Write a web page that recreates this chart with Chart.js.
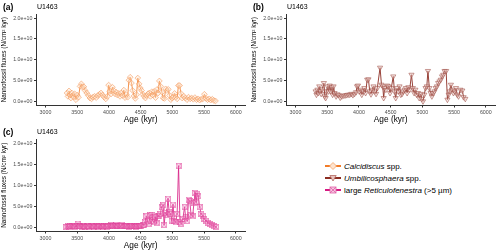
<!DOCTYPE html>
<html>
<head>
<meta charset="utf-8">
<script src="https://cdn.jsdelivr.net/npm/chart.js@4/dist/chart.umd.min.js"></script>
<style>
  html, body { margin: 0; padding: 0; background: #fff; }
  #wrap { position: relative; width: 500px; height: 251px; font-family: "Liberation Sans", Arial, sans-serif; }
  canvas.panel { position: absolute; }
  .tag { position: absolute; font-size: 8.5px; color: #000; font-weight: bold; }
  .site { position: absolute; font-size: 7px; color: #000; }
  #legend { position: absolute; left: 325px; top: 160px; font-size: 8px; color: #000; }
  #legend .row { height: 12px; display: flex; align-items: center; }
  #legend svg { margin-right: 3px; }
</style>
</head>
<body>
<div id="wrap">
  <canvas class="panel" id="panelA" width="250" height="125" style="left:0;top:0"></canvas>
  <canvas class="panel" id="panelB" width="250" height="125" style="left:250px;top:0"></canvas>
  <canvas class="panel" id="panelC" width="250" height="126" style="left:0;top:125px"></canvas>
  <div class="tag" style="left:3px;top:2px">(a)</div><div class="site" style="left:37px;top:3px">U1463</div>
  <div class="tag" style="left:253px;top:2px">(b)</div><div class="site" style="left:287px;top:3px">U1463</div>
  <div class="tag" style="left:3px;top:127px">(c)</div><div class="site" style="left:37px;top:128px">U1463</div>
  <div id="legend">
    <div class="row"><svg width="16" height="10"><line x1="0" y1="5" x2="16" y2="5" stroke="#f27c28" stroke-width="2"/><path d="M8 1.5 L11.5 5 L8 8.5 L4.5 5 Z" fill="#fde3cf" stroke="#f5a266" stroke-width="0.8"/></svg><span><i>Calcidiscus</i> spp.</span></div>
    <div class="row"><svg width="16" height="10"><line x1="0" y1="5" x2="16" y2="5" stroke="#8c2d22" stroke-width="2"/><path d="M4.8 2.5 L11.2 2.5 L8 8 Z" fill="#e8c3bf" stroke="#b26a62" stroke-width="0.8"/></svg><span><i>Umbilicosphaera</i> spp.</span></div>
    <div class="row"><svg width="16" height="10"><line x1="0" y1="5" x2="16" y2="5" stroke="#d61a82" stroke-width="2"/><rect x="5" y="2" width="6" height="6" fill="#f6c6e0" stroke="#e060a8" stroke-width="0.8"/><path d="M5 2 L11 8 M11 2 L5 8" stroke="#e060a8" stroke-width="0.8"/></svg><span>large <i>Reticulofenestra</i> (&gt;5 µm)</span></div>
  </div>
</div>
<script>
// tick positions
const xTicks = [3000, 3500, 4000, 4500, 5000, 5500, 6000];
const yTicks = [0, 5e9, 1e10, 1.5e10, 2e10];

// (a) Calcidiscus spp. -- age (kyr) / flux (N/cm2 kyr)
const calcAge = [3340,3355,3370,3385,3400,3415,3430,3445,3460,3480,3500,3520,3545,3565,3585,3605,3625,3650,3675,3700,
  3725,3750,3775,3800,3825,3850,3875,3900,3925,3950,3975,3995,4015,4035,4055,4075,4095,4115,4135,4155,
  4175,4195,4215,4235,4255,4275,4295,4315,4335,4355,4375,4395,4415,4435,4455,4475,4495,4515,4535,4555,
  4575,4595,4615,4635,4655,4675,4695,4715,4735,4755,4775,4795,4815,4835,4855,4875,4895,4915,4935,4955,
  4975,4995,5015,5035,5055,5075,5095,5115,5135,5155,5180,5205,5230,5255,5280,5305,5330,5355,5380,5405,
  5430,5455,5480,5505,5530,5555,5580,5605,5630,5655,5680];
const calcFlux = [2.0e9,1.2e9,2.5e9,1.5e9,0.8e9,2.0e9,1.4e9,1.0e9,1.8e9,0.4e9,1.5e9,1.0e9,3.6e9,4.2e9,3.4e9,3.5e9,2.6e9,2.0e9,1.4e9,0.8e9,
  0.6e9,1.0e9,1.2e9,0.9e9,1.4e9,1.7e9,2.0e9,1.5e9,1.0e9,0.6e9,1.2e9,3.9e9,2.4e9,1.8e9,3.4e9,2.6e9,1.8e9,2.2e9,1.5e9,1.9e9,
  1.2e9,2.0e9,1.4e9,2.7e9,0.9e9,1.6e9,1.0e9,5.1e9,5.8e9,4.4e9,2.6e9,1.3e9,0.7e9,1.6e9,5.6e9,4.2e9,3.2e9,2.6e9,1.7e9,1.2e9,
  0.8e9,1.4e9,1.8e9,2.0e9,1.2e9,2.3e9,1.5e9,2.4e9,0.9e9,2.8e9,2.0e9,4.9e9,3.6e9,2.2e9,0.8e9,0.7e9,3.0e9,2.6e9,2.9e9,1.4e9,
  0.4e9,0.8e9,1.1e9,1.9e9,1.0e9,0.6e9,3.8e9,3.8e9,1.9e9,0.8e9,1.2e9,0.8e9,0.4e9,1.0e9,0.6e9,0.8e9,0.5e9,0.9e9,0.4e9,0.6e9,
  0.3e9,0.5e9,0.6e9,1.7e9,0.7e9,0.4e9,0.6e9,0.3e9,0.5e9,0.2e9,0.1e9];

// (b) Umbilicosphaera spp.
const umbAge = [3317,3330,3345,3360,3375,3390,3405,3420,3447,3462,3475,3490,3505,3520,3540,3555,3570,3585,3600,3615,
  3640,3660,3680,3705,3730,3755,3780,3805,3830,3855,3880,3905,3930,3955,3970,3985,4005,4025,4045,4065,
  4085,4105,4130,4150,4170,4190,4210,4230,4250,4270,4290,4333,4355,4375,4390,4405,4425,4445,4465,4490,
  4510,4541,4560,4580,4600,4620,4640,4660,4680,4700,4720,4740,4760,4780,4800,4828,4850,4870,4890,4910,
  4930,4950,4975,4990,5010,5030,5050,5070,5088,5110,5130,5150,5170,5190,5210,5230,5250,5270,5290,5310,
  5330,5350,5375,5395,5415,5430,5450,5470,5490,5510,5530,5550,5570,5600,5630,5650,5677];
const umbFlux = [2.4e9,1.6e9,2.8e9,2.0e9,3.6e9,2.5e9,1.8e9,2.9e9,4.4e9,1.2e9,0.8e9,2.4e9,3.6e9,2.4e9,3.8e9,2.4e9,3.4e9,1.6e9,3.6e9,2.0e9,
  1.2e9,1.7e9,1.5e9,0.9e9,1.2e9,1.4e9,1.4e9,1.5e9,1.6e9,1.6e9,1.8e9,1.5e9,1.8e9,2.2e9,3.6e9,3.8e9,2.4e9,2.8e9,1.6e9,2.4e9,
  3.2e9,2.0e9,5.2e9,5.3e9,2.4e9,1.7e9,2.8e9,3.6e9,2.4e9,1.8e9,3.2e9,8.1e9,4.0e9,3.6e9,0.8e9,3.2e9,2.8e9,3.8e9,3.6e9,2.0e9,
  3.2e9,6.0e9,2.4e9,0.8e9,3.2e9,2.4e9,3.6e9,1.6e9,1.8e9,2.4e9,2.8e9,3.2e9,2.0e9,3.4e9,2.8e9,6.4e9,3.2e9,2.0e9,2.8e9,1.6e9,
  2.0e9,0.8e9,1.8e9,0.6e9,0.0e9,1.6e9,3.2e9,3.6e9,7.3e9,3.2e9,2.0e9,1.2e9,2.0e9,2.4e9,3.2e9,3.6e9,4.4e9,4.8e9,5.2e9,6.0e9,
  6.4e9,7.3e9,7.3e9,0.4e9,1.6e9,2.4e9,4.0e9,2.8e9,2.0e9,2.4e9,3.2e9,1.6e9,1.2e9,2.8e9,2.6e9,1.0e9,0.6e9];

// (c) large Reticulofenestra (>5 um)
const retAge = [3330,3350,3370,3390,3410,3430,3450,3470,3490,3510,3530,3550,3570,3590,3610,3630,3650,3670,3690,3710,
  3730,3750,3770,3790,3810,3830,3850,3870,3890,3910,3930,3950,3970,3990,4010,4030,4050,4070,4090,4110,
  4130,4150,4170,4190,4210,4230,4250,4270,4290,4310,4330,4350,4370,4390,4410,4430,4450,4470,4490,4510,
  4530,4550,4570,4590,4610,4630,4650,4672,4690,4710,4730,4750,4770,4790,4810,4830,4853,4870,4890,4910,
  4931,4950,4970,4990,5010,5030,5050,5075,5098,5120,5140,5165,5192,5210,5235,5255,5275,5295,5320,5340,
  5359,5375,5392,5410,5430,5455,5480,5505,5530,5560,5590,5620,5650,5688];
const retFlux = [0.1e9,0.2e9,0.1e9,0.3e9,0.2e9,0.4e9,0.2e9,0.1e9,0.3e9,0.9e9,0.3e9,0.2e9,0.1e9,0.3e9,0.2e9,0.1e9,0.2e9,0.3e9,0.1e9,0.2e9,
  0.4e9,0.2e9,0.1e9,0.3e9,0.2e9,0.1e9,0.2e9,0.4e9,0.2e9,0.1e9,0.3e9,0.2e9,0.1e9,0.3e9,0.2e9,0.5e9,0.2e9,0.4e9,0.2e9,0.6e9,
  0.3e9,0.2e9,0.4e9,0.3e9,0.6e9,0.2e9,0.3e9,0.2e9,0.4e9,0.1e9,0.3e9,0.2e9,0.4e9,0.2e9,0.3e9,0.1e9,0.3e9,0.2e9,0.4e9,0.3e9,
  0.5e9,0.6e9,1.2e9,2.6e9,1.4e9,0.9e9,2.9e9,3.0e9,1.6e9,1.2e9,2.4e9,1.0e9,2.8e9,2.6e9,3.2e9,4.8e9,5.2e9,0.6e9,3.4e9,3.0e9,
  6.8e9,3.6e9,3.2e9,1.6e9,5.4e9,1.6e9,1.2e9,3.2e9,14.6e9,1.2e9,0.9e9,2.0e9,4.8e9,2.4e9,1.5e9,6.6e9,6.2e9,3.0e9,2.6e9,5.8e9,
  8.2e9,6.0e9,8.0e9,7.4e9,4.8e9,3.2e9,2.8e9,2.0e9,1.6e9,1.0e9,0.8e9,0.5e9,0.3e9,0.1e9];

function sciLabel(v) {
    if (v === 0) return '0.0e+00';
    let e = Math.floor(Math.log10(Math.abs(v)));
    let m = v / Math.pow(10, e);
    return m.toFixed(1) + 'e+' + String(e).padStart(2, '0');
}

// boxed cross marker for the Reticulofenestra series
function boxCross() {
    let c = document.createElement('canvas');
    c.width = 6; c.height = 6;
    let g = c.getContext('2d');
    g.fillStyle = 'rgba(245,175,215,0.35)';
    g.fillRect(0.5, 0.5, 5, 5);
    g.strokeStyle = 'rgba(220,60,150,0.7)';
    g.lineWidth = 0.7;
    g.strokeRect(0.5, 0.5, 5, 5);
    g.beginPath();
    g.moveTo(0.5, 0.5); g.lineTo(5.5, 5.5);
    g.moveTo(5.5, 0.5); g.lineTo(0.5, 5.5);
    g.stroke();
    return c;
}

const fontFam = '"Liberation Sans", Arial, sans-serif';

function panelCiz(canvasId, ages, flux, stil) {
    const data = {
        datasets: [{
            data: ages.map((a, i) => ({ x: a, y: flux[i] })),
            borderColor: stil.line,
            borderWidth: 0.9,
            tension: 0,
            pointStyle: stil.point,
            pointRotation: stil.rot || 0,
            pointRadius: stil.radius,
            pointBorderWidth: 0.7,
            pointBorderColor: stil.pBorder,
            pointBackgroundColor: stil.pFill
        }]
    };
    const config = {
        type: 'line',
        data: data,
        options: {
            responsive: false,
            animation: false,
            devicePixelRatio: 1,
            layout: { padding: { top: 14, right: 4, left: 0, bottom: 0 } },
            plugins: { legend: { display: false }, tooltip: { enabled: false } },
            scales: {
                x: {
                    type: 'linear', min: 2850, max: 6150,
                    afterBuildTicks: ax => { ax.ticks = xTicks.map(v => ({ value: v })); },
                    afterFit: ax => { ax.height = 19.5; },
                    grid: { drawOnChartArea: false, drawTicks: true, tickLength: 2, color: '#333' },
                    border: { display: true, color: '#333', width: 1 },
                    ticks: { font: { size: 5.3, family: fontFam }, color: '#4d4d4d', padding: 1.5, maxRotation: 0, callback: v => String(v) },
                    title: { display: true, text: 'Age (kyr)', font: { size: 8.3, family: fontFam }, color: '#000', padding: { top: 0, bottom: 0 } }
                },
                y: {
                    type: 'linear', min: -1e9, max: 2.1e10,
                    afterBuildTicks: ax => { ax.ticks = yTicks.map(v => ({ value: v })); },
                    afterFit: ax => { ax.width = 36; },
                    grid: { drawOnChartArea: false, drawTicks: true, tickLength: 2, color: '#333' },
                    border: { display: true, color: '#333', width: 1 },
                    ticks: { font: { size: 5.3, family: fontFam }, color: '#4d4d4d', padding: 1.5, callback: v => sciLabel(v) },
                    title: { display: true, text: 'Nannofossil fluxes (N/cm² kyr)', font: { size: 6.4, family: fontFam }, color: '#000', padding: { top: 0, bottom: 1 } }
                }
            }
        }
    };
    return new Chart(document.getElementById(canvasId), config);
}

panelCiz('panelA', calcAge, calcFlux, {
    line: 'rgba(242,124,40,0.9)', point: 'rectRot', radius: 2.9,
    pBorder: 'rgba(245,150,90,0.8)', pFill: 'rgba(253,225,200,0.4)'
});
panelCiz('panelB', umbAge, umbFlux, {
    line: '#8c2d22', point: 'triangle', rot: 180, radius: 3.0,
    pBorder: 'rgba(160,80,72,0.8)', pFill: 'rgba(235,200,195,0.45)'
});
panelCiz('panelC', retAge, retFlux, {
    line: 'rgba(214,26,130,0.9)', point: boxCross(), radius: 3,
    pBorder: 'rgba(214,26,130,0.8)', pFill: 'rgba(240,150,200,0.45)'
});
</script>
</body>
</html>
